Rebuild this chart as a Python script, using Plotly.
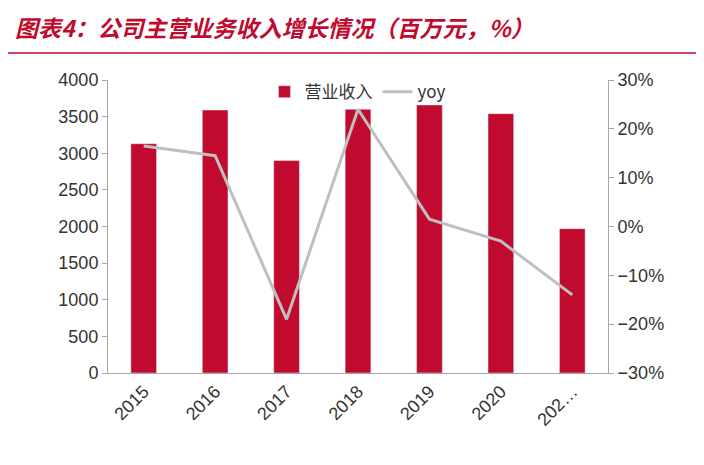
import plotly.graph_objects as go

years = ["2015", "2016", "2017", "2018", "2019", "2020", "202…"]
revenue = [3130, 3590, 2900, 3600, 3660, 3540, 1970]
yoy = [16.5, 14.5, -19.0, 24.0, 1.5, -3.0, -14.0]

fig = go.Figure()
fig.add_trace(go.Bar(x=years, y=revenue, name="营业收入", marker_color="#C00A2E", width=0.36))
fig.add_trace(go.Scatter(x=years, y=yoy, name="yoy", yaxis="y2", mode="lines",
                         line=dict(color="#BFBFBF", width=3)))

axis_font = dict(family="Liberation Sans, Arial", size=18, color="#333333")
fig.update_layout(
    width=704, height=465,
    margin=dict(l=100, r=104, t=72, b=100),
    plot_bgcolor="white", paper_bgcolor="white",
    font=axis_font,
    title=dict(text="<b><i>图表4：公司主营业务收入增长情况（百万元，%）</i></b>",
               x=0.01, xanchor="left", y=0.955, yanchor="middle",
               font=dict(family="Noto Sans CJK SC", size=23, color="#C00A2E")),
    xaxis=dict(tickangle=-45, showline=True, linecolor="#A6A6A6", ticks="", tickfont=axis_font),
    yaxis=dict(range=[0, 4000], dtick=500, showgrid=False, showline=True, linecolor="#A6A6A6",
               ticks="outside", ticklen=5, tickcolor="#A6A6A6", tickfont=axis_font, zeroline=False),
    yaxis2=dict(range=[-30, 30], dtick=10, ticksuffix="%", overlaying="y", side="right",
                showgrid=False, showline=True, linecolor="#A6A6A6", ticks="outside", ticklen=5,
                tickcolor="#A6A6A6", tickfont=axis_font, zeroline=False),
    legend=dict(orientation="h", x=0.5, xanchor="center", y=1.02, yanchor="top",
                font=dict(family="Noto Sans CJK SC, Liberation Sans", size=17, color="#333333"),
                bgcolor="rgba(0,0,0,0)"),
    shapes=[dict(type="line", xref="paper", yref="paper", x0=-0.21, x1=1.21, y0=1.092, y1=1.092,
                 line=dict(color="#C00A2E", width=1.5))],
)
fig.write_html("out.html")
